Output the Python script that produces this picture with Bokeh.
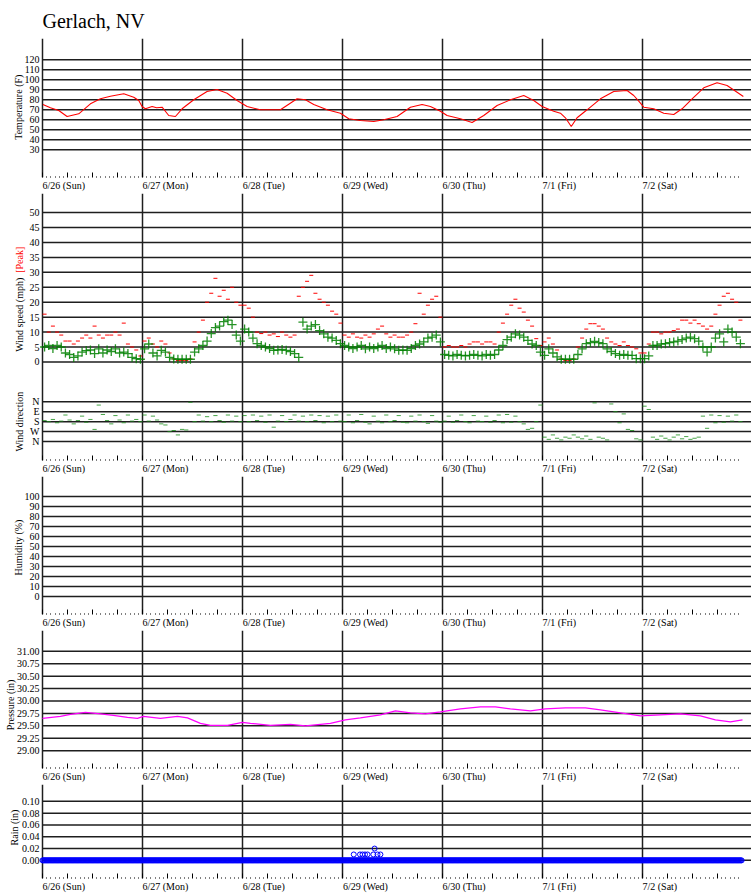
import math
import numpy as np
from bokeh.plotting import figure
from bokeh.models import (FixedTicker, LinearAxis, Range1d, Label, NumeralTickFormatter,
                          CustomLabelingPolicy)
from bokeh.layouts import column
from bokeh.embed import file_html
from bokeh.resources import INLINE

FONT = "Liberation Serif, Times New Roman, Times, serif"

# ---------------- data ----------------
station = "Gerlach, NV"
day_labels = ["6/26 (Sun)", "6/27 (Mon)", "6/28 (Tue)", "6/29 (Wed)", "6/30 (Thu)", "7/1 (Fri)", "7/2 (Sat)"]

# temperature (hours since 6/26 00:00, deg F)
temp_hours = [0.1, 1.9, 3.9, 5.9, 8.7, 11.5, 13.9, 16.3, 19.5, 21.9, 23.1, 23.9,
              24.7, 26.3, 27.4, 28.7, 30.3, 31.9, 33.5, 36.3, 39.5, 41.9, 44.3, 46.7,
              49.1, 52.3, 57.1, 61.1, 63.1, 65.1, 68.3, 71.5,
              73.5, 76.3, 79.5, 81.9, 85.1, 88.3, 91.1, 93.1, 95.5,
              97.1, 100.3, 103.1, 105.9, 109.1, 112.3, 115.5, 117.9,
              119.9, 122.7, 124.3, 125.5, 126.9, 128.3, 130.7, 133.9, 137.1, 140.3, 141.9, 143.1,
              144.3, 146.7, 149.1, 151.5, 153.5, 155.9, 158.7, 161.9, 164.3, 166.7, 168.2]
temp_f = [75.3, 72, 69.3, 63.3, 66, 76, 81, 83.6, 86, 82.6, 79.3, 73.3,
          71, 73.3, 72, 72.6, 64.3, 63.3, 71, 80, 88.3, 90.3, 86.6, 79.3,
          73.3, 70, 70, 81, 80, 75.3, 70, 66.6,
          61, 59.3, 58.3, 60, 63.3, 72.6, 75.3, 73.3, 68.6,
          64.3, 61, 57.3, 64.3, 74.3, 80, 84.3, 79.3,
          73.3, 68.6, 66.6, 62, 53.3, 62, 70, 81, 88.3, 89.3, 84.3, 78.6,
          72.6, 71, 66.6, 65.3, 71, 81, 92, 97, 94.3, 87.6, 83.3]

# wind, hourly (mph): average and peak, one list per day
wind_avg_by_day = [
    [5.0, 5.5, 4.5, 5.5, 5.0, 3.0, 2.5, 1.5, 2.0, 3.3, 3.8, 4.0, 2.8, 4.4, 3.0, 4.0, 3.5, 4.4, 3.0, 3.3, 2.8, 1.5, 1.1, 0.9],
    [4.4, 6.0, 3.0, 2.0, 3.9, 3.3, 1.5, 1.0, 0.9, 0.9, 0.9, 0.9, 3.3, 4.4, 5.5, 7.0, 9.5, 11.5, 12.0, 13.5, 14.0, 12.5, 9.0, 7.0],
    [11, 10, 8, 6.1, 5.5, 5, 4.5, 3.9, 4.0, 4.2, 3.9, 3.5, 2.8, 1.5, 13.3, 11, 12, 12.5, 10.5, 9.4, 8.3, 8, 7.2, 6.1],
    [5.5, 5, 4.5, 5, 5.5, 4.4, 5, 4.5, 5, 5.5, 4.5, 5, 4.4, 3.9, 4, 3.9, 4.5, 5.5, 6, 6.7, 8, 8.3, 9, 6.7],
    [2.5, 2.2, 2.0, 2.5, 2.2, 2.0, 2.2, 2.5, 2.2, 2.0, 2.5, 2.2, 2.5, 4.0, 5.5, 7.5, 8.3, 9.4, 9.0, 8.3, 7.2, 6.0, 5.5, 3.3],
    [2.2, 4.4, 3.0, 1.7, 0.9, 0.9, 0.9, 0.9, 2.5, 4.4, 6.1, 6.5, 6.9, 6.5, 6.1, 4.4, 3.5, 2.8, 2.2, 2.5, 2.2, 2.2, 1.1, 1.1],
    [1.1, 2, 5.5, 5.5, 6, 6.1, 6.5, 6.7, 7, 7.5, 8, 8.3, 7.8, 7, 5, 3.3, 5, 8, 9.4, 6.7, 11, 10, 8.3, 6.1],
]
wind_peak_by_day = [
    [16, 10, 12, 10, 9, 7, 7, 6, 7, 8, 9, 8, 12, 9, 8, 9, 9, 10, 9, 13, 6, 5, 4, 2],
    [7, 8, 6, 5, 7, 6, 3, 1, 0.5, 0.5, 0.5, 1, 6.7, 10, 14, 20, 23, 28, 22, 24, 21, 25, 20, 19],
    [19, 18, 15, 10, 9.5, 10, 9, 9.4, 8.5, 10, 9, 8.3, 9, 22, 25, 27, 29, 23, 21, 20, 19, 17, 16, 13],
    [9, 8.3, 9.4, 8.3, 8, 9, 8.3, 9.4, 11, 12, 9.4, 8.3, 9, 8.3, 8.3, 9, 10, 12.8, 23, 16, 19, 21, 22, 15],
    [5, 5.5, 5, 5, 5.5, 5, 6, 6.7, 6.7, 6, 6.7, 6.7, 6, 10, 13, 16, 19, 21, 18, 16.7, 14, 12, 7.8, 5.5],
    [6.7, 8, 6, 4, 1, 0.5, 0.5, 1, 5, 8, 11, 12.8, 12.8, 12, 11, 8, 6.7, 6, 5.5, 6.7, 5.5, 5, 4.4, 3],
    [3, 6, 10, 10, 9.4, 10, 10, 10.5, 11, 14, 14, 13, 14, 12.8, 12, 11, 12, 16, 19, 22, 23, 21, 20, 14],
]
# wind direction, hourly (degrees from N)
wind_dir_by_day = [
    [170, 180, 160, 190, 175, 120, 165, 200, 170, 130, 185, 160, 250, 30, 115, 170, 200, 125, 165, 190, 120, 175, 160, 180],
    [120, 175, 130, 165, 200, 210, 270, 260, 300, 250, 255, 5, 180, 120, 175, 135, 180, 125, 170, 185, 120, 175, 130, 180],
    [125, 180, 120, 170, 130, 185, 120, 230, 175, 125, 180, 160, 120, 175, 130, 180, 120, 170, 125, 190, 130, 180, 120, 175],
    [180, 120, 190, 170, 115, 185, 200, 130, 175, 190, 120, 180, 170, 125, 185, 190, 130, 175, 120, 180, 195, 125, 175, 185],
    [175, 130, 185, 170, 120, 180, 190, 125, 175, 180, 130, 185, 170, 120, 190, 115, 185, 130, 180, 200, 250, 240, 180, 30],
    [320, 340, 300, 330, 345, 320, 330, 300, 320, 335, 310, 340, 10, 320, 330, 345, 20, 90, 190, 110, 250, 260, 335, 345],
    [40, 70, 320, 340, 310, 330, 345, 320, 300, 335, 315, 340, 330, 320, 130, 240, 120, 190, 125, 185, 130, 175, 120, 180],
]

# pressure (hours, inHg)
pres_hours = [0, 4.3, 6.7, 10.3, 13.9, 17.0, 20.4, 22.8, 24.2, 28.3, 32.4, 34.8, 37.9, 40.3, 44.4,
              48.0, 49.9, 54.7, 59.5, 63.1, 69.1, 72.7, 76.3, 81.1, 84.7, 88.3, 91.9, 95.5,
              100.3, 105.1, 108.7, 112.3, 117.1, 120.7, 125.5, 130.3, 133.9, 138.7, 143.5,
              148.3, 153.1, 157.9, 161.5, 165.1, 168.0]
pres_in = [29.65, 29.69, 29.73, 29.77, 29.74, 29.71, 29.67, 29.65, 29.69, 29.65, 29.69, 29.66, 29.55, 29.51, 29.51,
           29.57, 29.55, 29.51, 29.53, 29.50, 29.55, 29.62, 29.66, 29.72, 29.80, 29.76, 29.74, 29.78,
           29.84, 29.88, 29.88, 29.84, 29.80, 29.84, 29.86, 29.86, 29.82, 29.76, 29.70,
           29.72, 29.74, 29.70, 29.62, 29.58, 29.62]

# rain (inches): zero readings all week, plus the few non-zero readings on 6/29
rain_zero_hours = np.arange(0.0, 168.0, 0.2)
rain_zero_in = np.zeros(len(rain_zero_hours))
rain_event_hours = [74.7, 76.2, 76.8, 77.4, 78.0, 79.4, 79.7, 80.4, 81.1]
rain_event_in = [0.01, 0.01, 0.01, 0.01, 0.01, 0.01, 0.02, 0.01, 0.01]

temp_ticks = [30, 40, 50, 60, 70, 80, 90, 100, 110, 120]
wind_ticks = [0, 5, 10, 15, 20, 25, 30, 35, 40, 45, 50]
dir_names = ["N", "E", "S", "W", "N"]
dir_degrees = [0, 90, 180, 270, 360]
hum_ticks = [0, 10, 20, 30, 40, 50, 60, 70, 80, 90, 100]
pres_ticks = [29.0, 29.25, 29.5, 29.75, 30.0, 30.25, 30.5, 30.75, 31.0]
rain_ticks = [0.0, 0.02, 0.04, 0.06, 0.08, 0.10]

# ---------------- layout helpers ----------------
W = 751
LEFT = 42                      # px from canvas edge to the 6/26 00:00 line
PX_PER_HOUR = 100 / 24
X_START = -LEFT / PX_PER_HOUR
X_END = (W - LEFT) / PX_PER_HOUR
GRID = "#1e1e1e"

TIMES_W = {'/': .278, ' ': .25, '(': .333, ')': .333, 'S': .556, 'u': .5, 'n': .5, 'M': .889,
           'o': .5, 'T': .611, 'e': .444, 'W': .944, 'd': .5, 'h': .5, 'F': .556, 'r': .333,
           'i': .278, 'a': .444, 't': .278}


def text_w(s, size=10):
    return sum(TIMES_W.get(c, 0.5) for c in s) * size


major_6h = list(range(0, 168, 6))
minor_1h = [h for h in range(0, 168) if h % 6]
day_starts = [24 * d for d in range(len(day_labels))]
label_x = [round(ds + text_w(t) / 2 / PX_PER_HOUR, 3) for ds, t in zip(day_starts, day_labels)]

# direction is drawn on the wind panel's scale, below the speed area
DIR_TOP = -13.33
DIR_PER_90 = 3.333


def dir_to_y(deg):
    return DIR_TOP - deg / 90.0 * DIR_PER_90


NO_LABELS = CustomLabelingPolicy(code="for (const i of indices) { indices.unset(i) }\nreturn indices")


def panel(frame_h, y_lo, y_hi, yticks, bottom, top=0, title=None, fmt=None, overrides=None):
    p = figure(width=W, height=top + frame_h + bottom,
               x_range=Range1d(X_START, X_END), y_range=Range1d(y_lo, y_hi),
               output_backend="svg", toolbar_location=None,
               min_border_left=0, min_border_right=0,
               min_border_top=top, min_border_bottom=bottom, title=title)
    p.outline_line_color = None
    p.background_fill_color = "white"
    p.border_fill_color = "white"
    # tick axis (6h major ticks inward, hourly dots)
    xa = p.xaxis[0]
    xa.ticker = FixedTicker(ticks=major_6h, minor_ticks=minor_1h)
    xa.axis_line_color = None
    xa.major_tick_in = 5
    xa.major_tick_out = 0
    xa.major_tick_line_color = "black"
    xa.major_tick_line_width = 1
    xa.minor_tick_in = 1
    xa.minor_tick_out = 0
    xa.minor_tick_line_color = "black"
    xa.major_label_text_font_size = "0px"
    xa.major_label_standoff = 0
    xa.major_label_policy = NO_LABELS
    # day label axis
    la = LinearAxis(ticker=FixedTicker(ticks=label_x, minor_ticks=[]),
                    major_label_overrides={x: t for x, t in zip(label_x, day_labels)},
                    axis_line_color=None, major_tick_line_color=None,
                    major_tick_in=0, major_tick_out=0, minor_tick_line_color=None,
                    minor_tick_in=0, minor_tick_out=0,
                    major_label_standoff=2, major_label_text_font=FONT,
                    major_label_text_font_size="10px", major_label_text_color="black")
    p.add_layout(la, "below")
    # y axis, drawn on the 6/26 00:00 line
    ya = p.yaxis[0]
    ya.fixed_location = 0
    ya.ticker = FixedTicker(ticks=yticks, minor_ticks=[])
    ya.major_tick_in = 0
    ya.major_tick_out = 0
    ya.minor_tick_line_color = None
    ya.axis_line_color = None
    ya.major_label_standoff = 3
    ya.major_label_text_font = FONT
    ya.major_label_text_font_size = "10px"
    ya.major_label_text_color = "black"
    if fmt is not None:
        ya.formatter = fmt
    if overrides:
        ya.major_label_overrides = overrides
    # grid: day lines full height, value lines from the first day on
    p.xgrid.ticker = FixedTicker(ticks=day_starts)
    p.xgrid.grid_line_color = GRID
    p.xgrid.grid_line_width = 1.5
    p.ygrid.visible = False
    n = len(yticks)
    p.segment(x0=[0] * n, x1=[X_END] * n, y0=yticks, y1=yticks,
              line_color=GRID, line_width=1.5, level="underlay")
    return p


def ytitle(p, text, canvas_x, y, color="black"):
    p.add_layout(Label(x=X_START + canvas_x / PX_PER_HOUR, y=y, text=text,
                       angle=math.pi / 2, text_align="center", text_baseline="middle",
                       text_font=FONT, text_font_size="10px", text_color=color))


# ---------------- temperature ----------------
p1 = panel(139, 2.3, 141.3, temp_ticks, bottom=16, top=38, title=station)
p1.title.text_font = FONT
p1.title.text_font_size = "20px"
p1.title.text_font_style = "normal"
p1.title.text_color = "black"
p1.title.align = "left"
p1.title.offset = LEFT
p1.title.standoff = 14
p1.line(temp_hours, temp_f, line_color="red", line_width=1.1)
ytitle(p1, "Temperature (F)", 18.3, 72.6)

# ---------------- wind ----------------
dir_ticks = [dir_to_y(d) for d in dir_degrees]
p2 = panel(268, -33.0, 56.4, wind_ticks + dir_ticks, bottom=15,
           overrides={y: nm for y, nm in zip(dir_ticks, dir_names)})
hours = []
avg = []
peak = []
dirs = []
for d in range(7):
    for h in range(24):
        hours.append(d * 24 + h + 0.5)
        avg.append(wind_avg_by_day[d][h])
        peak.append(wind_peak_by_day[d][h])
        dirs.append(dir_to_y(wind_dir_by_day[d][h]))
p2.scatter(hours, peak, marker="dash", size=4, line_color="red", line_width=1)
p2.scatter(hours, avg, marker="cross", size=9, line_color="#008000", line_width=1.3, line_alpha=0.85)
p2.scatter(hours, dirs, marker="dash", size=4.2, line_color="#1a8f1a", line_width=1, line_alpha=0.8)
ytitle(p2, "Wind speed (mph)", 19, 15.8)
ytitle(p2, "[Peak]", 19, 34.2, color="red")
ytitle(p2, "Wind direction", 19, -20)

# ---------------- humidity ----------------
p3 = panel(138, -18, 120, hum_ticks, bottom=16)
ytitle(p3, "Humidity (%)", 18.3, 49)

# ---------------- pressure ----------------
p4 = panel(139, 28.64, 31.42, pres_ticks, bottom=15, fmt=NumeralTickFormatter(format="0.00"))
p4.line(pres_hours, pres_in, line_color="magenta", line_width=1.2)
ytitle(p4, "Pressure (in)", 9.5, 29.92)

# ---------------- rain ----------------
p5 = panel(95, -0.0307, 0.1285, rain_ticks, bottom=15, fmt=NumeralTickFormatter(format="0.00"))
p5.scatter(rain_zero_hours, rain_zero_in, marker="circle", size=5, fill_color=None,
           line_color="blue", line_width=1)
p5.scatter(rain_event_hours, rain_event_in, marker="circle", size=5, fill_color=None,
           line_color="blue", line_width=1)
ytitle(p5, "Rain (in)", 14.3, 0.0556)

layout = column(p1, p2, p3, p4, p5, spacing=0)
open("out.html", "w").write(file_html(layout, INLINE))
